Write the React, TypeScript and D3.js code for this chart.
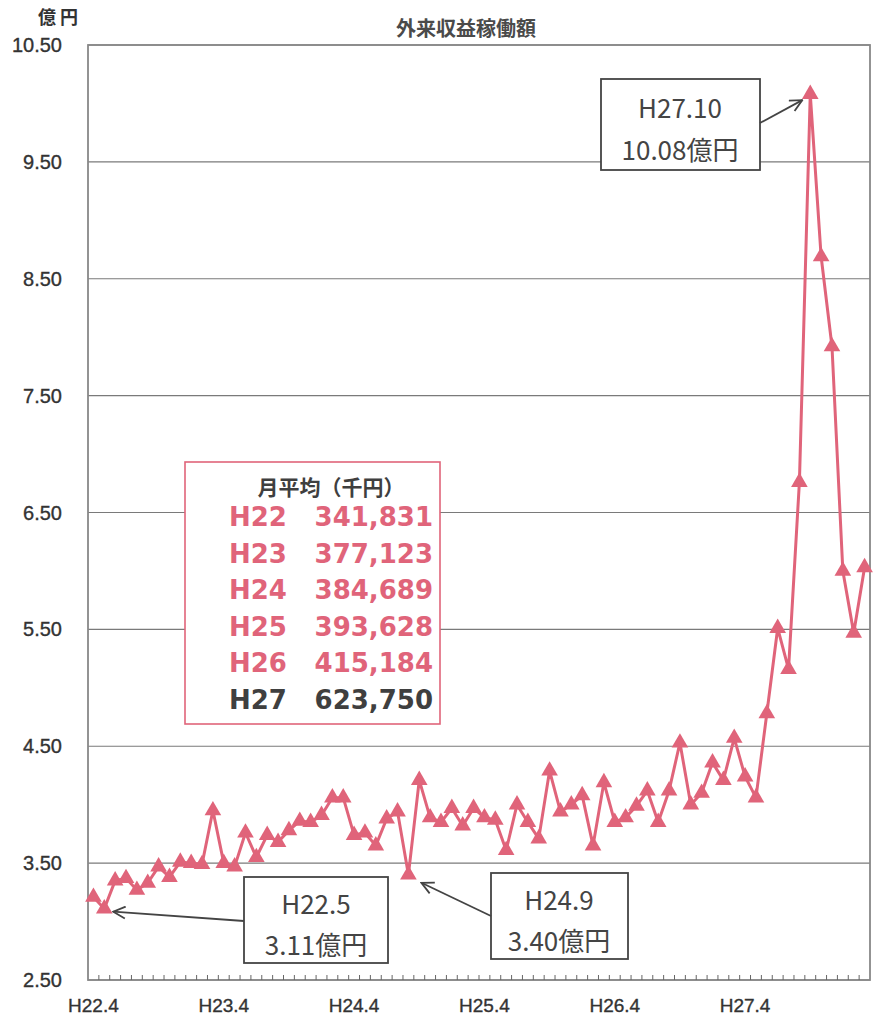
import React from 'react';
import * as d3 from 'd3';

// fiscal years (April start) and month order
const fiscalYears = ['H22', 'H23', 'H24', 'H25', 'H26', 'H27'];
const monthOrder = [4, 5, 6, 7, 8, 9, 10, 11, 12, 1, 2, 3];

// 外来収益 (億円), H22.4 – H28.3
const revenue = [
  3.21, 3.11, 3.35, 3.37, 3.27, 3.33, 3.47, 3.38, 3.51, 3.50, 3.49, 3.95,
  3.50, 3.47, 3.76, 3.55, 3.74, 3.68, 3.78, 3.86, 3.85, 3.91, 4.06, 4.06,
  3.74, 3.76, 3.65, 3.88, 3.94, 3.40, 4.21, 3.89, 3.85, 3.97, 3.82, 3.97,
  3.89, 3.87, 3.61, 4.00, 3.85, 3.71, 4.29, 3.94, 4.00, 4.08, 3.65, 4.19,
  3.85, 3.89, 3.99, 4.12, 3.85, 4.12, 4.53, 4.00, 4.10, 4.36, 4.21, 4.57,
  4.24, 4.06, 4.78, 5.51, 5.16, 6.76, 10.08, 8.69, 7.92, 6.00, 5.47, 6.03,
];

const yTicks = [2.5, 3.5, 4.5, 5.5, 6.5, 7.5, 8.5, 9.5, 10.5];

const avgYears = ['H22', 'H23', 'H24', 'H25', 'H26', 'H27'];
const avgValues = ['341,831', '377,123', '384,689', '393,628', '415,184', '623,750'];

// build month labels like "H22.4"
const months: string[] = [];
fiscalYears.forEach((fy, i) => {
  monthOrder.forEach(m => {
    const yr = m >= 4 ? 22 + i : 23 + i;
    months.push(`H${yr}.${m}`);
  });
});
const data = months.map((m, i) => ({ month: m, value: revenue[i] }));

const PINK = '#E0647A';
const GRID = '#7a7a7a';
const TEXT = '#333';
const JP = "'Noto Sans CJK JP', 'Noto Sans', sans-serif";
const NUM = "'Liberation Sans', Arial, sans-serif";

export default function App() {
  const width = 875;
  const height = 1021;
  const left = 88, right = 870, top = 45, bottom = 980;

  const x = d3.scaleBand<string>().domain(months).range([left, right]);
  const y = d3.scaleLinear().domain([2.5, 10.5]).range([bottom, top]);
  const cx = (m: string) => (x(m) ?? 0) + x.bandwidth() / 2;

  const line = d3.line<{ month: string; value: number }>()
    .x(d => cx(d.month))
    .y(d => y(d.value));

  const tri = d3.symbol().type(d3.symbolTriangle).size(120)();

  const labelMonths = months.filter(m => m.endsWith('.4'));

  // annotation targets
  const pk = data[66], lo1 = data[1], lo2 = data[29];

  return (
    <div>
      <style>{`body{margin:0}`}</style>
      <svg width={width} height={height} style={{ display: 'block', background: '#fff' }}>
        <defs>
          <marker id="arr" viewBox="0 0 14 14" refX="13" refY="7" markerWidth="14" markerHeight="14"
            markerUnits="userSpaceOnUse" orient="auto">
            <path d="M1,1 L13,7 L1,13" fill="none" stroke="#444" strokeWidth="1.8" />
          </marker>
        </defs>

        {/* unit + title */}
        <text x={38} y={24} fontFamily={JP} fontWeight={700} fontSize={18} fill={TEXT}>億 円</text>
        <text x={466} y={36} textAnchor="middle" fontFamily={JP} fontWeight={700} fontSize={20} fill="#4a4a4a">
          外来収益稼働額
        </text>

        {/* grid */}
        {yTicks.map(t => (
          <line key={t} x1={left} x2={right} y1={y(t)} y2={y(t)} stroke={GRID} strokeWidth={1.2} />
        ))}
        <rect x={left} y={top} width={right - left} height={bottom - top} fill="none" stroke="#888" strokeWidth={1.8} />

        {/* y labels */}
        {yTicks.map(t => (
          <text key={t} x={62} y={y(t) + 7} textAnchor="end" fontFamily={NUM} fontSize={20}
            fill={TEXT} stroke={TEXT} strokeWidth={0.35}>
            {t.toFixed(2)}
          </text>
        ))}

        {/* month ticks */}
        {months.map((m, i) => i > 0 && (
          <line key={m} x1={x(m)} x2={x(m)} y1={bottom} y2={bottom - 5} stroke="#666" strokeWidth={1} />
        ))}
        {labelMonths.map(m => (
          <text key={m} x={cx(m)} y={1012} textAnchor="middle" fontFamily={NUM} fontSize={19}
            fill={TEXT} stroke={TEXT} strokeWidth={0.35}>
            {m}
          </text>
        ))}

        {/* series */}
        <path d={line(data) ?? ''} fill="none" stroke={PINK} strokeWidth={3} strokeLinejoin="round" />
        {data.map(d => (
          <path key={d.month} d={tri ?? ''} transform={`translate(${cx(d.month)},${y(d.value)})`} fill={PINK} />
        ))}

        {/* legend box */}
        <rect x={185} y={462} width={255} height={262} fill="#fff" stroke={PINK} strokeWidth={1.6} />
        <text x={331} y={495} textAnchor="middle" fontFamily={JP} fontWeight={700} fontSize={21} fill="#3f3f3f">
          月平均（千円）
        </text>
        {avgYears.map((yr, i) => (
          <g key={yr} fontFamily="'DejaVu Sans', Verdana, sans-serif" fontWeight={700} fontSize={26}
            fill={i === avgYears.length - 1 ? '#3f3f3f' : PINK}>
            <text x={229} y={526 + i * 36.5}>{yr}</text>
            <text x={433} y={526 + i * 36.5} textAnchor="end">{avgValues[i]}</text>
          </g>
        ))}

        {/* annotations */}
        <g fontFamily={JP} fontSize={26} fill="#444" textAnchor="middle">
          <rect x={601} y={79} width={159} height={91} fill="#fff" stroke="#444" strokeWidth={1.8} />
          <text x={680} y={118}>H27.10</text>
          <text x={680} y={160}>10.08億円</text>
          <line x1={760} y1={123} x2={cx(pk.month) - 8} y2={y(pk.value) + 6} stroke="#444" strokeWidth={1.8} markerEnd="url(#arr)" />

          <rect x={244} y={877} width={144} height={86} fill="#fff" stroke="#444" strokeWidth={1.8} />
          <text x={316} y={914}>H22.5</text>
          <text x={316} y={955}>3.11億円</text>
          <line x1={244} y1={921} x2={cx(lo1.month) + 9} y2={y(lo1.value) + 3} stroke="#444" strokeWidth={1.8} markerEnd="url(#arr)" />

          <rect x={491} y={873} width={137} height={86} fill="#fff" stroke="#444" strokeWidth={1.8} />
          <text x={559} y={910}>H24.9</text>
          <text x={559} y={951}>3.40億円</text>
          <line x1={491} y1={916} x2={cx(lo2.month) + 13} y2={y(lo2.value) + 8} stroke="#444" strokeWidth={1.8} markerEnd="url(#arr)" />
        </g>
      </svg>
    </div>
  );
}
